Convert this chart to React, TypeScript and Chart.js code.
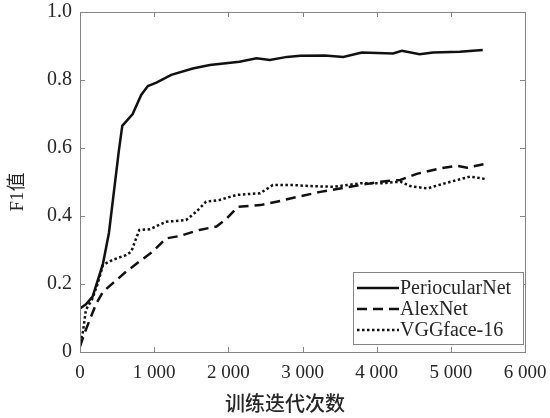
import React, { useEffect, useRef } from "react";
import { Chart, registerables } from "chart.js";

Chart.register(...registerables);

// Training iterations and F1 scores for each network
const periocularIters = [0, 80, 170, 310, 390, 525, 570, 710, 825, 915, 1030, 1230, 1520, 1750, 2150, 2380, 2560, 2790, 2970, 3300, 3550, 3800, 4220, 4340, 4580, 4760, 5120, 5430];
const periocularF1 = [0.128, 0.14, 0.163, 0.26, 0.35, 0.594, 0.665, 0.7, 0.756, 0.782, 0.792, 0.815, 0.834, 0.844, 0.854, 0.864, 0.859, 0.868, 0.871, 0.872, 0.868, 0.881, 0.878, 0.886, 0.876, 0.881, 0.883, 0.888];

const alexIters = [0, 60, 130, 220, 310, 440, 620, 800, 980, 1160, 1340, 1610, 1840, 1980, 2130, 2430, 2650, 2970, 3240, 3780, 4050, 4320, 4540, 4860, 5080, 5220, 5440];
const alexF1 = [0.016, 0.055, 0.094, 0.143, 0.177, 0.202, 0.236, 0.266, 0.295, 0.334, 0.341, 0.359, 0.369, 0.393, 0.427, 0.432, 0.442, 0.458, 0.471, 0.491, 0.501, 0.506, 0.524, 0.54, 0.548, 0.542, 0.552];

const vggIters = [0, 40, 80, 170, 240, 310, 440, 620, 690, 800, 940, 1160, 1430, 1570, 1700, 1880, 2110, 2430, 2600, 2880, 3100, 3420, 3780, 4050, 4320, 4450, 4680, 4950, 5260, 5490];
const vggF1 = [0.026, 0.06, 0.124, 0.158, 0.202, 0.256, 0.271, 0.285, 0.295, 0.359, 0.361, 0.383, 0.388, 0.413, 0.442, 0.447, 0.462, 0.467, 0.491, 0.491, 0.488, 0.486, 0.496, 0.496, 0.501, 0.488, 0.481, 0.498, 0.516, 0.508];

const seriesNames = ["PeriocularNet", "AlexNet", "VGGface-16"];
const xTicks = [0, 1000, 2000, 3000, 4000, 5000, 6000];
const yTicks = [0, 0.2, 0.4, 0.6, 0.8, 1.0];
const xTitle = "训练迭代次数";
const yTitle = "F1值";

const SERIF = "'Liberation Serif', 'Times New Roman', serif";
const CJK = "'Noto Sans CJK SC', sans-serif";
const AXIS_GRAY = "#858585";
const TEXT = "#262626";

const toPoints = (xs: number[], ys: number[]) => xs.map((x, i) => ({ x, y: ys[i] }));

const fmtX = (v: number) => (v === 0 ? "0" : `${Math.floor(v / 1000)} ${String(v % 1000).padStart(3, "0")}`);
const fmtY = (v: number) => (v === 0 ? "0" : v.toFixed(1));

// Box outline, inward tick marks on all four sides, titles and legend
const framePlugin = {
  id: "frame",
  afterDraw(chart: any) {
    const { ctx, chartArea: a, scales } = chart;
    const xs = scales.x;
    const ys = scales.y;
    ctx.save();
    ctx.strokeStyle = AXIS_GRAY;
    ctx.lineWidth = 1;
    ctx.strokeRect(a.left + 0.5, a.top + 0.5, a.right - a.left, a.bottom - a.top);
    const tl = 5;
    ctx.beginPath();
    xTicks.forEach((v) => {
      const px = Math.round(xs.getPixelForValue(v)) + 0.5;
      ctx.moveTo(px, a.bottom);
      ctx.lineTo(px, a.bottom - tl);
      ctx.moveTo(px, a.top);
      ctx.lineTo(px, a.top + tl);
    });
    yTicks.forEach((v) => {
      const py = Math.round(ys.getPixelForValue(v)) + 0.5;
      ctx.moveTo(a.left, py);
      ctx.lineTo(a.left + tl, py);
      ctx.moveTo(a.right, py);
      ctx.lineTo(a.right - tl, py);
    });
    ctx.stroke();

    // axis titles
    ctx.fillStyle = TEXT;
    ctx.textAlign = "center";
    ctx.textBaseline = "middle";
    ctx.font = `500 20px ${CJK}`;
    ctx.fillText(xTitle, 285, 403);
    ctx.save();
    ctx.translate(18, 192);
    ctx.rotate(-Math.PI / 2);
    ctx.font = `19px ${SERIF}, ${CJK}`;
    ctx.fillText(yTitle, 0, 0);
    ctx.restore();

    // legend
    const bx = 353, by = 272, bw = 170, bh = 72;
    ctx.fillStyle = "#ffffff";
    ctx.fillRect(bx, by, bw, bh);
    ctx.strokeStyle = AXIS_GRAY;
    ctx.strokeRect(bx + 0.5, by + 0.5, bw, bh);
    const rows = [288, 309, 330];
    chart.data.datasets.forEach((ds: any, i: number) => {
      const y = rows[i];
      ctx.save();
      ctx.strokeStyle = ds.borderColor;
      ctx.lineWidth = ds.borderWidth;
      ctx.setLineDash(ds.borderDash || []);
      ctx.beginPath();
      ctx.moveTo(357, y);
      ctx.lineTo(399, y);
      ctx.stroke();
      ctx.restore();
      ctx.fillStyle = TEXT;
      ctx.textAlign = "left";
      ctx.textBaseline = "middle";
      ctx.font = `20px ${SERIF}`;
      ctx.fillText(ds.label, 400, y + 1);
    });
    ctx.restore();
  },
};

export default function App() {
  const canvasRef = useRef<HTMLCanvasElement | null>(null);

  useEffect(() => {
    if (!canvasRef.current) return;
    const lineBase = { borderColor: "#111111", borderWidth: 2.5, pointRadius: 0, tension: 0, fill: false };
    const chart = new Chart(canvasRef.current, {
      type: "line",
      data: {
        datasets: [
          { ...lineBase, label: seriesNames[0], data: toPoints(periocularIters, periocularF1) },
          { ...lineBase, label: seriesNames[1], data: toPoints(alexIters, alexF1), borderDash: [10, 6] },
          { ...lineBase, label: seriesNames[2], data: toPoints(vggIters, vggF1), borderDash: [2.5, 2.5] },
        ],
      },
      options: {
        responsive: false,
        animation: false,
        layout: { padding: { top: 12, right: 25, left: 0, bottom: 0 } },
        plugins: { legend: { display: false }, tooltip: { enabled: false } },
        scales: {
          x: {
            type: "linear",
            min: 0,
            max: 6000,
            grid: { display: false, drawTicks: false },
            border: { display: false },
            afterFit: (s: any) => {
              s.height = 66;
              s.paddingLeft = 0;
              s.paddingRight = 0;
            },
            afterBuildTicks: (s: any) => { s.ticks = xTicks.map((v) => ({ value: v })); },
            ticks: {
              padding: 10,
              color: TEXT,
              font: { family: SERIF, size: 19 },
              maxRotation: 0,
              callback: (v: any) => fmtX(Number(v)),
            },
          },
          y: {
            min: 0,
            max: 1,
            grid: { display: false, drawTicks: false },
            border: { display: false },
            afterFit: (s: any) => {
              s.width = 80;
              s.paddingTop = 0;
              s.paddingBottom = 0;
            },
            afterBuildTicks: (s: any) => { s.ticks = yTicks.map((v) => ({ value: v })); },
            ticks: {
              padding: 8,
              color: TEXT,
              font: { family: SERIF, size: 20 },
              callback: (v: any) => fmtY(Number(v)),
            },
          },
        },
      },
      plugins: [framePlugin],
    });
    return () => chart.destroy();
  }, []);

  return (
    <div style={{ position: "absolute", left: 0, top: 0, width: 550, height: 418, background: "#fff" }}>
      <canvas ref={canvasRef} width={550} height={418} />
    </div>
  );
}
